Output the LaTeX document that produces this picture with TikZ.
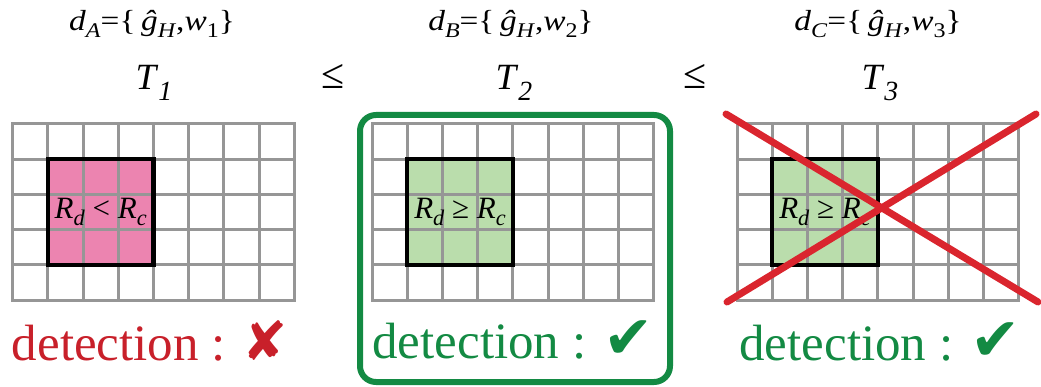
\documentclass[tikz,border=0pt]{standalone}
\usepackage{fontspec}
\setmainfont{Liberation Serif}
\newfontfamily\symfont{DejaVu Sans}
\definecolor{gridgray}{RGB}{150,150,150}
\definecolor{pinkfill}{RGB}{236,132,176}
\definecolor{greenfill}{RGB}{186,221,172}
\definecolor{okgreen}{RGB}{19,138,67}
\definecolor{badred}{RGB}{200,32,42}
\definecolor{xred}{RGB}{218,37,46}
\newcommand\lo[1]{\raisebox{-0.22em}{\scalebox{0.72}{#1}}}
\newcommand\tlo[1]{\raisebox{-0.28em}{\scalebox{0.75}{#1}}}
\newcommand\dlab[2]{\scalebox{1.15}[1]{\textit{d}\lo{\textit{#1}}=\{\,\textit{ĝ}\lo{\textit{H}},\textit{w}\lo{#2}\}}}
\tikzset{
  gridline/.style={draw=gridgray, line width=3pt, line cap=rect},
  boxline/.style={draw=black, line width=4.5pt},
  toplabel/.style={anchor=base, inner sep=0pt, font=\fontsize{29}{32}\selectfont},
  tlabel/.style={anchor=base, inner sep=0pt, font=\fontsize{37}{40}\selectfont},
  lelabel/.style={anchor=base, inner sep=0pt, font=\fontsize{42}{46}\selectfont},
  rlabel/.style={anchor=base, inner sep=0pt, font=\fontsize{31}{34}\selectfont},
  detlabel/.style={anchor=base, inner sep=0pt, font=\fontsize{51}{56}\selectfont},
  okbox/.style={draw=okgreen, line width=6pt, rounded corners=16pt},
  cross/.style={draw=xred, line width=7pt, line cap=round},
}
\begin{document}
\begin{tikzpicture}[x=1pt,y=-1pt]
\useasboundingbox (0,0) rectangle (1041,387);
\def\cw{35.2}
\fill[pinkfill] (12.7+\cw,124+\cw) rectangle (12.7+4*\cw,124+4*\cw);
\fill[greenfill] (372+\cw,124+\cw) rectangle (372+4*\cw,124+4*\cw);
\fill[greenfill] (737+\cw,124+\cw) rectangle (737+4*\cw,124+4*\cw);
\foreach \xo in {12.7,372,737}{
  \foreach \i in {0,...,8}{
    \draw[gridline] (\xo+\i*\cw,124) -- (\xo+\i*\cw,124+5*\cw);
  }
  \foreach \j in {0,...,5}{
    \draw[gridline] (\xo,124+\j*\cw) -- (\xo+8*\cw,124+\j*\cw);
  }
  \draw[boxline] (\xo+\cw,124+\cw) rectangle (\xo+4*\cw,124+4*\cw);
}
\node[toplabel] (da) at (152,31) {\dlab{A}{1}};
\node[toplabel] (db) at (511,31) {\dlab{B}{2}};
\node[toplabel] (dc) at (878,31) {\dlab{C}{3}};
\node[tlabel] (t1) at (154,90) {\textit{T}\tlo{\textit{1}}};
\node[tlabel] (t2) at (514,90) {\textit{T}\tlo{\textit{2}}};
\node[tlabel] (t3) at (880,90) {\textit{T}\tlo{\textit{3}}};
\node[lelabel] (le1) at (333,89) {≤};
\node[lelabel] (le2) at (695,89) {≤};
\node[rlabel] (ra) at (12.7+2.5*\cw,219) {\textit{R}\lo{\textit{d}} < \textit{R}\lo{\textit{c}}};
\node[rlabel] (rb) at (372+2.5*\cw,219) {\textit{R}\lo{\textit{d}} ≥ \textit{R}\lo{\textit{c}}};
\node[rlabel] (rc) at (737+2.5*\cw,219) {\textit{R}\lo{\textit{d}} ≥ \textit{R}\lo{\textit{c}}};
\node[detlabel, text=badred] (deta) at (150,360) {detection : {\symfont\fontsize{54}{58}\selectfont ✘}};
\node[detlabel, text=okgreen] (detb) at (513,358) {detection : {\symfont\fontsize{60}{64}\selectfont ✔}};
\node[detlabel, text=okgreen] (detc) at (880,360) {detection : {\symfont\fontsize{60}{64}\selectfont ✔}};
\draw[okbox] (360,115) rectangle (670,382);
\draw[cross] (726,114) -- (1038,302);
\draw[cross] (1036,114) -- (727,302);
\end{tikzpicture}
\end{document}
